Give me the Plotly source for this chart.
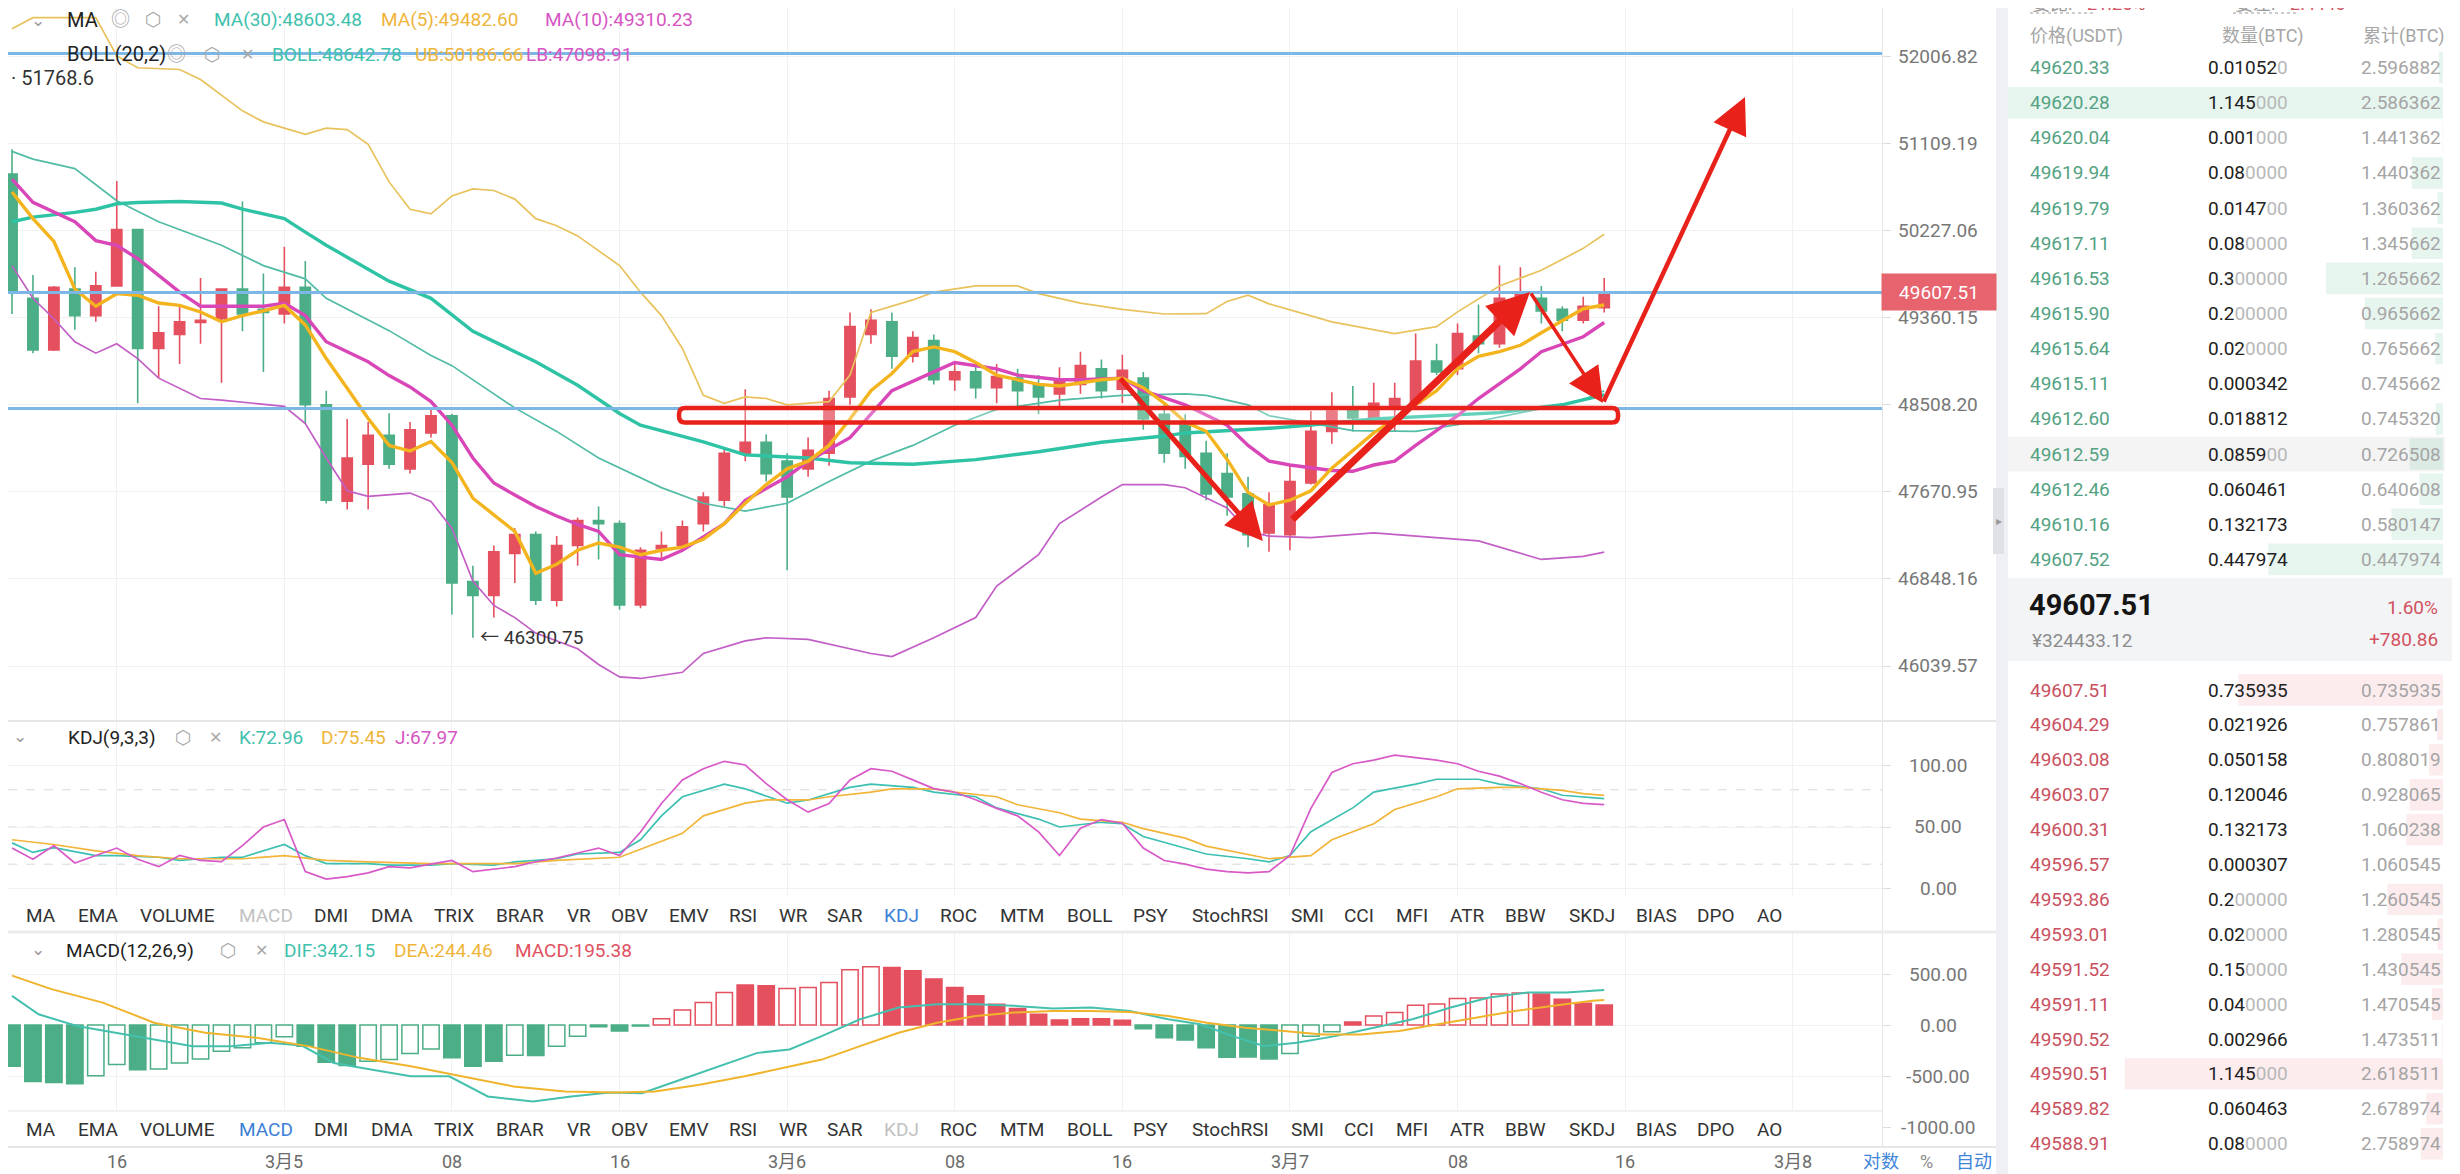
import math
import pandas as pd
import plotly.graph_objects as go

# ======================= DATA =======================
t0 = pd.Timestamp("2021-03-04 11:00:00")
times = pd.date_range(t0, periods=77, freq="h")

opens = [50794, 49548, 49040, 49641, 49378, 49672, 50234, 49055, 49193, 49310,
         49347, 49641, 49440, 49394, 49657, 48506, 47581, 47933, 48211, 47889,
         48234, 48400, 46824, 46692, 47087, 47264, 46648, 47161, 47398, 47368,
         46604, 47132, 47161, 47368, 47590, 48038, 48144, 47963, 47889, 48038,
         48582, 49193, 49317, 48979, 49132, 48749, 48826, 48673, 48765, 48704,
         48612, 48704, 48856, 48658, 48765, 48415, 48309, 48038, 47844, 47650,
         47279, 47264, 47754, 48249, 48454, 48378, 48491, 48521, 48932, 48856,
         49178, 49101, 49548, 49548, 49440, 49332, 49456]
highs = [51046, 49781, 49672, 49858, 49812, 50723, 50234, 49471, 49471, 49750,
         49645, 50517, 49796, 50061, 49920, 48643, 48369, 48339, 48423, 48339,
         48461, 48420, 46971, 47161, 47324, 47294, 47250, 47427, 47531, 47398,
         47146, 47294, 47398, 47665, 48083, 48658, 48219, 48038, 48189, 48643,
         49409, 49440, 49409, 49224, 49193, 48917, 48902, 48902, 48856, 48795,
         48871, 49024, 48948, 48994, 48826, 48521, 48415, 48159, 48038, 47814,
         47665, 47925, 48446, 48628, 48689, 48719, 48719, 49201, 49101, 49301,
         49487, 49874, 49858, 49672, 49471, 49565, 49750]
lows = [49394, 49009, 49030, 49240, 49317, 49672, 48521, 48765, 48902, 49101,
        48719, 49224, 48826, 49301, 48324, 47560, 47502, 47502, 47889, 47844,
        48189, 46516, 46300.75, 46487, 46809, 46604, 46590, 46971, 47030, 46560,
        46575, 47030, 47117, 47294, 47531, 47963, 47769, 46929, 47814, 47918,
        48506, 49101, 48856, 48917, 48704, 48643, 48567, 48521, 48461, 48415,
        48461, 48612, 48567, 48521, 48264, 47948, 47889, 47590, 47442, 47146,
        47102, 47117, 47739, 48129, 48249, 48339, 48249, 48491, 48795, 48795,
        49009, 49063, 49487, 49301, 49224, 49301, 49409]
closes = [49626, 49040, 49657, 49378, 49672, 50234, 49055, 49209, 49317, 49332,
          49641, 49394, 49409, 49657, 48506, 47590, 47993, 48211, 47933, 48264,
          48400, 46809, 46692, 47102, 47264, 46648, 47161, 47398, 47368, 46604,
          47117, 47161, 47339, 47620, 48038, 48144, 47844, 47620, 48068, 48567,
          49270, 49332, 48979, 49163, 48749, 48826, 48673, 48780, 48643, 48582,
          48749, 48887, 48643, 48841, 48369, 48038, 48008, 47650, 47620, 47264,
          47546, 47769, 48249, 48446, 48378, 48521, 48567, 48932, 48826, 49201,
          49101, 49548, 49610, 49424, 49332, 49471, 49607.51]

MA5 = {0: 50613, 1: 50344, 2: 50115, 3: 49641, 4: 49471, 5: 49595, 6: 49580, 7: 49502, 8: 49479, 9: 49414,
       10: 49317, 11: 49378, 12: 49424, 13: 49479, 14: 49286, 15: 48956, 16: 48666, 17: 48374, 18: 48114,
       19: 48060, 20: 48151, 21: 47950, 22: 47609, 24: 47294, 25: 46900, 26: 46985, 27: 47117, 28: 47185,
       29: 47146, 30: 47075, 31: 47117, 32: 47146, 33: 47220, 34: 47368, 35: 47561, 36: 47739, 37: 47889,
       38: 47963, 39: 48114, 40: 48369, 41: 48643, 42: 48810, 43: 49024, 44: 49070, 45: 49024, 46: 48917,
       47: 48795, 48: 48749, 49: 48704, 50: 48689, 51: 48719, 52: 48749, 53: 48765, 54: 48673, 55: 48521,
       56: 48339, 57: 48250, 58: 47980, 59: 47665, 60: 47546, 61: 47590, 62: 47680, 63: 47896, 64: 48068,
       65: 48234, 66: 48369, 67: 48506, 68: 48643, 69: 48856, 70: 48979, 71: 49024, 72: 49086, 73: 49209,
       74: 49332, 75: 49446, 76: 49482.60}
MA10 = {0: 50743, 1: 50509, 3: 50313, 4: 50124, 5: 50077, 6: 49943, 7: 49776, 8: 49610, 9: 49471, 10: 49471,
        11: 49479, 12: 49471, 13: 49499, 14: 49378, 15: 49121, 16: 49024, 17: 48925, 18: 48790, 19: 48680,
        20: 48537, 21: 48309, 22: 47993, 23: 47754, 24: 47640, 25: 47530, 26: 47440, 27: 47360, 28: 47294,
        29: 47075, 31: 47030, 32: 47117, 34: 47368, 35: 47590, 37: 47814, 38: 47963, 40: 48189, 41: 48415,
        42: 48643, 44: 48826, 45: 48917, 47: 48856, 48: 48795, 50: 48749, 51: 48749, 53: 48765, 54: 48643,
        56: 48506, 58: 48309, 59: 48114, 60: 47963, 61: 47926, 63: 47874, 64: 47866, 65: 47926, 66: 47963,
        67: 48114, 69: 48400, 70: 48567, 72: 48856, 73: 49024, 75: 49170, 76: 49310.23}
MA30 = {0: 50313, 1: 50360, 3: 50407, 4: 50439, 5: 50494, 6: 50507, 8: 50517, 10: 50501, 11: 50439, 13: 50344,
        14: 50209, 15: 50077, 16: 49958, 18: 49719, 20: 49549, 22: 49224, 25: 48925, 27: 48696, 29: 48422,
        30: 48309, 33: 48149, 35: 48023, 38: 47993, 40: 47948, 43: 47933, 46: 47978, 49: 48053, 52: 48144,
        55: 48204, 56: 48234, 60: 48279, 62: 48309, 65: 48369, 68: 48400, 71: 48430, 74: 48506, 76: 48603.48}
BOLL_MID = {0: 51025, 1: 50946, 3: 50850, 5: 50525, 7: 50313, 10: 50077, 12: 49874, 14: 49742, 15: 49549,
            17: 49332, 18: 49230, 20: 48986, 21: 48887, 24: 48476, 26: 48249, 28: 47993, 31: 47710, 33: 47561,
            35: 47487, 37: 47561, 39: 47769, 41: 47963, 43: 48114, 45: 48309, 47: 48461, 50: 48552, 53: 48597,
            56: 48612, 57: 48597, 59: 48506, 60: 48400, 64: 48257, 67: 48249, 70: 48347, 75: 48552, 76: 48642.78}
BOLL_UB = {0: 52290, 1: 52407, 4: 52407, 5: 52007, 6: 51885, 8: 51867, 9: 51763, 11: 51440, 12: 51327, 14: 51199,
           15: 51263, 16: 51247, 17: 51097, 18: 50715, 19: 50439, 20: 50392, 21: 50573, 22: 50644, 23: 50628,
           24: 50541, 25: 50344, 26: 50273, 27: 50171, 28: 50022, 29: 49874, 30: 49610, 31: 49378, 32: 49055,
           33: 48597, 34: 48521, 35: 48582, 36: 48567, 37: 48506, 39: 48537, 40: 48795, 41: 49409, 43: 49533,
           44: 49610, 46: 49672, 48: 49672, 49: 49595, 51: 49502, 53: 49440, 55: 49394, 56: 49397, 57: 49397,
           58: 49518, 59: 49580, 60: 49494, 63: 49317, 66: 49201, 68: 49270, 69: 49415, 71: 49672, 73: 49827,
           75: 50046, 76: 50186.66}
BOLL_LB = {0: 49874, 1: 49549, 2: 49347, 3: 49121, 4: 49009, 5: 49101, 6: 48956, 7: 48765, 9: 48567, 10: 48552,
           13: 48491, 14: 48324, 15: 47993, 16: 47680, 17: 47627, 19: 47658, 20: 47578, 21: 47324, 22: 46828,
           23: 46600, 24: 46487, 25: 46343, 27: 46198, 28: 46054, 29: 45939, 30: 45925, 32: 45982, 33: 46155,
           35: 46271, 36: 46300, 38: 46285, 39: 46242, 41: 46155, 42: 46126, 44: 46300, 46: 46487, 47: 46780,
           49: 47075, 50: 47368, 52: 47620, 53: 47739, 55: 47739, 56: 47709, 58: 47516, 59: 47294, 60: 47250,
           62: 47235, 65: 47280, 70: 47205, 73: 47030, 75: 47059, 76: 47098.91}

# KDJ
K_LINE = {0: 37.2, 1: 29.5, 2: 33.3, 4: 26.9, 5: 26.9, 7: 25.6, 8: 23.1, 10: 25.6, 11: 25.6, 13: 35.9, 14: 26.9,
          15: 20.5, 17: 20.5, 18: 19.2, 20: 19.2, 21: 20.5, 23: 19.2, 24: 21.8, 26: 24.4, 27: 28.2, 29: 29.5,
          30: 39.7, 31: 59.0, 32: 74.4, 34: 84.6, 35: 80.8, 37: 69.2, 38: 71.8, 40: 82.0, 41: 84.6, 43: 82.0,
          44: 78.2, 46: 74.4, 47: 65.4, 49: 56.4, 50: 50.0, 52: 53.8, 53: 52.6, 54: 42.3, 56: 33.3, 57: 28.2,
          59: 24.4, 60: 21.8, 61: 26.9, 62: 46.2, 64: 65.4, 65: 78.2, 67: 84.6, 68: 88.5, 70: 88.5, 71: 84.6,
          73: 80.8, 74: 75.6, 76: 72.96}
D_LINE = {0: 39.7, 2: 35.9, 4: 30.8, 6: 26.9, 8: 24.4, 11: 24.4, 13: 26.9, 15: 23.1, 17: 21.8, 20: 20.5, 22: 20.5,
          24: 20.5, 26: 23.1, 29: 25.6, 30: 32.1, 32: 44.9, 33: 59.0, 35: 69.2, 36: 71.8, 38: 71.8, 39: 74.4,
          41: 78.2, 42: 80.8, 44: 80.8, 45: 78.2, 47: 74.4, 48: 67.9, 50: 61.5, 51: 56.4, 53: 53.8, 54: 48.7,
          56: 41.0, 57: 34.6, 59: 28.2, 60: 24.4, 62: 26.9, 63: 39.7, 65: 52.6, 66: 64.1, 68: 74.4, 69: 80.8,
          71: 82.0, 72: 82.0, 74: 79.5, 75: 76.9, 76: 75.45}
J_LINE = [33, 24, 35, 21, 27, 33, 24, 18, 27, 23, 22, 35, 50, 56, 14, 8, 10, 13, 18, 17,
          20, 23, 14, 16, 18, 22, 25, 29, 33, 27, 46, 69, 88, 97, 103, 100, 85, 72, 62, 69,
          88, 97, 95, 88, 81, 78, 72, 65, 59, 46, 27, 49, 56, 53, 33, 23, 20, 16, 14, 13,
          14, 27, 65, 94, 101, 104, 108, 106, 104, 101, 95, 91, 85, 78, 72, 69, 67.97]

# MACD
MACD_HIST = [-405, -553, -563, -576, -497, -388, -438, -431, -372, -332,
             -257, -224, -174, -115, -207, -365, -398, -355, -339, -280,
             -234, -322, -405, -355, -296, -300, -207, -109, -16, -59,
             -10, 62, 148, 220, 319, 392, 385, 359, 368, 418,
             543, 572, 563, 533, 451, 368, 286, 204, 161, 105,
             49, 62, 62, 46, -36, -125, -148, -224, -316, -313,
             -332, -280, -109, -66, 30, 89, 122, 194, 207, 260,
             266, 303, 313, 303, 253, 214, 195.38]
MACD_HOLLOW = [0, 0, 0, 0, 1, 1, 0, 1, 1, 1, 1, 1, 1, 1, 0, 0, 0, 1, 1, 1,
               1, 0, 0, 0, 1, 0, 1, 1, 0, 0, 0, 1, 1, 1, 1, 0, 0, 1, 1, 1,
               1, 1, 0, 0, 0, 0, 0, 0, 0, 0, 0, 0, 0, 0, 0, 0, 0, 0, 0, 0,
               0, 1, 1, 1, 0, 1, 1, 1, 1, 1, 1, 1, 1, 0, 0, 0, 0]
DIF_H = [0, 1.27, 3.10, 4.94, 6.78, 8.62, 10.46, 12.30, 13.83, 15.36, 17.20, 19.04, 20.87, 22.71, 24.86,
         26.70, 28.53, 30.07, 31.91, 33.74, 35.58, 37.11, 38.65, 40.48, 42.32, 44.16, 46.00, 47.84, 49.68,
         51.52, 53.35, 55.19, 56.72, 58.26, 59.79, 61.32, 63.16, 65.00, 66.84, 68.67, 70.51, 72.35, 74.19, 76]
DIF_V = [286, 105, -10, -76, -141, -207, -207, -174, -201, -372, -438, -503, -503, -701, -750,
         -701, -661, -668, -536, -405, -273, -240, -109, 56, 171, 204, 204, 188, 161,
         171, 138, 56, 7, -109, -207, -174, -109, -26, 56, 171, 270, 319, 319, 342.15]
DEA_H = [0, 1.88, 4.33, 6.78, 9.23, 11.68, 14.13, 16.58, 19.04, 21.49, 23.94, 26.39, 28.84, 30.68, 32.82,
         34.97, 36.81, 38.65, 40.48, 42.32, 44.16, 46.00, 47.84, 49.68, 51.52, 53.35, 55.19, 57.03, 58.87,
         60.71, 62.55, 64.38, 66.22, 68.06, 69.90, 71.74, 73.58, 75.42, 76]
DEA_V = [484, 352, 220, 23, -76, -125, -207, -322, -405, -503, -602, -651, -661, -651, -586,
         -503, -421, -339, -207, -76, 23, 89, 122, 138, 138, 128, 89, 23, -26,
         -59, -92, -92, -59, 7, 72, 138, 188, 237, 244.46]

tick_times = ["2021-03-04 16:00", "2021-03-05 00:00", "2021-03-05 08:00", "2021-03-05 16:00",
              "2021-03-06 00:00", "2021-03-06 08:00", "2021-03-06 16:00", "2021-03-07 00:00",
              "2021-03-07 08:00", "2021-03-07 16:00", "2021-03-08 00:00"]
tick_text = ["16", "3月5", "08", "16", "3月6", "08", "16", "3月7", "08", "16", "3月8"]
main_ticks = [52006.82, 51109.19, 50227.06, 49360.15, 48508.20, 47670.95, 46848.16, 46039.57]
kdj_ticks = [100, 50, 0]
kdj_dash = [80, 50, 20]
macd_ticks = [500, 0, -500, -1000]

last_price = 49607.51
high_mark = 51768.6
low_mark = 46300.75
low_mark_idx = 22
h_lines = [52033, 49607.51, 48471]

ask_price = ["49620.33", "49620.28", "49620.04", "49619.94", "49619.79", "49617.11", "49616.53", "49615.90",
             "49615.64", "49615.11", "49612.60", "49612.59", "49612.46", "49610.16", "49607.52"]
ask_qty = [0.010520, 1.145000, 0.001000, 0.080000, 0.014700, 0.080000, 0.300000, 0.200000,
           0.020000, 0.000342, 0.018812, 0.085900, 0.060461, 0.132173, 0.447974]
ask_cum = ["2.596882", "2.586362", "1.441362", "1.440362", "1.360362", "1.345662", "1.265662", "0.965662",
           "0.765662", "0.745662", "0.745320", "0.726508", "0.640608", "0.580147", "0.447974"]
bid_price = ["49607.51", "49604.29", "49603.08", "49603.07", "49600.31", "49596.57", "49593.86", "49593.01",
             "49591.52", "49591.11", "49590.52", "49590.51", "49589.82", "49588.91"]
bid_qty = [0.735935, 0.021926, 0.050158, 0.120046, 0.132173, 0.000307, 0.200000, 0.020000,
           0.150000, 0.040000, 0.002966, 1.145000, 0.060463, 0.080000]
bid_cum = ["0.735935", "0.757861", "0.808019", "0.928065", "1.060238", "1.060545", "1.260545", "1.280545",
           "1.430545", "1.470545", "1.473511", "2.618511", "2.678974", "2.758974"]

tabs = ["MA", "EMA", "VOLUME", "MACD", "DMI", "DMA", "TRIX", "BRAR", "VR", "OBV", "EMV", "RSI", "WR", "SAR",
        "KDJ", "ROC", "MTM", "BOLL", "PSY", "StochRSI", "SMI", "CCI", "MFI", "ATR", "BBW", "SKDJ", "BIAS",
        "DPO", "AO"]

# hand-drawn overlay (hour index, price)
red_box = (31.84, 76.66, 48334, 48476)
red_arrows = [((52.84, 48776), (59.71, 47204), 5.0, 1.5),
              ((61.05, 47393), (72.46, 49611), 7.0, 1.2),
              ((72.46, 49611), (75.94, 48523), 3.5, 2.0),
              ((75.94, 48523), (82.72, 51582), 4.5, 1.6)]

# ======================= STYLE / GEOMETRY =======================
SCREEN_W, SCREEN_H = 2460, 1174
OFF = 8                       # page body margin: figure is drawn 8px in from the top-left
W, H = SCREEN_W - OFF, SCREEN_H - OFF
FONT = "Roboto, 'Noto Sans CJK SC', 'DejaVu Sans', sans-serif"
UP, DN = "#e5505f", "#4cae86"
C_TEAL, C_ORANGE, C_MAG = "#2fc3a6", "#f4b41e", "#d946b8"
C_TEAL_T, C_YEL_T, C_PUR_T = "#52bca6", "#e8c25c", "#c25ec6"
L_TEAL, L_ORANGE, L_MAG = "#3fc1ad", "#efb53a", "#d655c2"
GRID = "#f1f1f1"
BLUE_LINE = "#7db7e6"
DRAW_RED = "#e8221b"

# all layout positions below are in screen pixels of the reference
PLOT_R = 1882
MAIN_T, MAIN_B = OFF, 721
KDJ_T, KDJ_B = 721, 932
MACD_T, MACD_B = 932, 1147
CANDLE0_X, CANDLE_DX = 12.0, 20.95
X_LEFT_H = (OFF - CANDLE0_X) / CANDLE_DX
X_RIGHT_H = (PLOT_R - CANDLE0_X) / CANDLE_DX
# log price scale: 52006.82 sits at y=56, 46039.57 at y=666
PIX_PER_LOG = (666 - 56) / (math.log10(52006.82) - math.log10(46039.57))
LOG_LO = math.log10(52006.82) - (MAIN_B - 56) / PIX_PER_LOG
LOG_HI = math.log10(52006.82) + (56 - MAIN_T) / PIX_PER_LOG


def px(x):
    return (x - OFF) / W


def py(y):
    return 1 - (y - OFF) / H


def T(idx):
    return [t0 + pd.Timedelta(hours=float(i)) for i in idx]


def xp(h):
    return (h - X_LEFT_H) / (X_RIGHT_H - X_LEFT_H) * px(PLOT_R)


def yp_main(v):
    d0, d1 = py(MAIN_B), py(MAIN_T)
    return d0 + (math.log10(v) - LOG_LO) / (LOG_HI - LOG_LO) * (d1 - d0)


x_range = [t0 + pd.Timedelta(hours=X_LEFT_H), t0 + pd.Timedelta(hours=X_RIGHT_H)]

fig = go.Figure()

# ---- candles ----
fig.add_trace(go.Candlestick(
    x=times, open=opens, high=highs, low=lows, close=closes,
    increasing=dict(line=dict(color=UP, width=1.6), fillcolor=UP),
    decreasing=dict(line=dict(color=DN, width=1.6), fillcolor=DN),
    whiskerwidth=0, xaxis="x", yaxis="y", hoverinfo="skip", showlegend=False))


def add_line(d, color, width, xa="x", ya="y"):
    fig.add_trace(go.Scatter(x=T(d.keys()), y=list(d.values()), mode="lines",
                             line=dict(color=color, width=width), xaxis=xa, yaxis=ya,
                             hoverinfo="skip", showlegend=False))


add_line(BOLL_UB, C_YEL_T, 1.7)
add_line(BOLL_LB, C_PUR_T, 1.7)
add_line(BOLL_MID, C_TEAL_T, 1.7)
add_line(MA30, C_TEAL, 3.4)
add_line(MA10, C_MAG, 3.4)
add_line(MA5, C_ORANGE, 3.4)

# ---- KDJ ----
add_line(K_LINE, "#3cc0b2", 1.7, "x2", "y2")
add_line(D_LINE, "#f2b53a", 1.7, "x2", "y2")
add_line(dict(enumerate(J_LINE)), "#d85ac8", 1.7, "x2", "y2")

# ---- MACD ----
bar_fill = []
bar_line = []
for v, hol in zip(MACD_HIST, MACD_HOLLOW):
    c = UP if v >= 0 else DN
    bar_line.append(c)
    bar_fill.append("white" if hol else c)
fig.add_trace(go.Bar(x=times, y=MACD_HIST, width=0.78 * 3600000, xaxis="x3", yaxis="y3",
                     marker=dict(color=bar_fill, line=dict(color=bar_line, width=1.5)),
                     hoverinfo="skip", showlegend=False))
fig.add_trace(go.Scatter(x=T(DIF_H), y=DIF_V, mode="lines", line=dict(color="#45c0ae", width=2),
                         xaxis="x3", yaxis="y3", hoverinfo="skip", showlegend=False))
fig.add_trace(go.Scatter(x=T(DEA_H), y=DEA_V, mode="lines", line=dict(color="#f0b42c", width=2),
                         xaxis="x3", yaxis="y3", hoverinfo="skip", showlegend=False))

# ---- order book depth bars ----
fig.add_trace(go.Bar(x=ask_qty, y=list(range(len(ask_qty))), orientation="h", width=0.9,
                     xaxis="x4", yaxis="y4", marker=dict(color="rgba(70,175,130,0.13)", line=dict(width=0)),
                     hoverinfo="skip", showlegend=False))
fig.add_trace(go.Bar(x=bid_qty, y=list(range(len(bid_qty))), orientation="h", width=0.9,
                     xaxis="x5", yaxis="y5", marker=dict(color="rgba(230,80,100,0.11)", line=dict(width=0)),
                     hoverinfo="skip", showlegend=False))

# ======================= SHAPES =======================
shapes = []


def rect(x0, y0, x1, y1, fill, layer="above"):
    shapes.append(dict(type="rect", xref="paper", yref="paper", x0=px(x0), x1=px(x1), y0=py(y1), y1=py(y0),
                       fillcolor=fill, line=dict(width=0), layer=layer))


def hline(x0, x1, y, color, width, dash="solid", layer="above"):
    shapes.append(dict(type="line", xref="paper", yref="paper", x0=px(x0), x1=px(x1), y0=py(y), y1=py(y),
                       line=dict(color=color, width=width, dash=dash), layer=layer))


# light blue drawn horizontal lines
for v in h_lines:
    shapes.append(dict(type="line", xref="paper", yref="paper", x0=0, x1=px(PLOT_R),
                       y0=yp_main(v), y1=yp_main(v), line=dict(color=BLUE_LINE, width=3), layer="above"))

# KDJ dashed reference lines
for v in kdj_dash:
    shapes.append(dict(type="line", xref="x2 domain", yref="y2", x0=0, x1=1, y0=v, y1=v,
                       line=dict(color="#d9d9d9", width=1, dash="dash"), layer="below"))


def P(x, y):
    return f"{px(x):.6f},{py(y):.6f}"


# red rounded box (hand drawn)
bx0, bx1 = xp(red_box[0]) * W + OFF, xp(red_box[1]) * W + OFF
by0, by1 = (1 - yp_main(red_box[3])) * H + OFF, (1 - yp_main(red_box[2])) * H + OFF
r = 6
path = (f"M{P(bx0 + r, by0)} L{P(bx1 - r, by0)} Q{P(bx1, by0)} {P(bx1, by0 + r)} "
        f"L{P(bx1, by1 - r)} Q{P(bx1, by1)} {P(bx1 - r, by1)} L{P(bx0 + r, by1)} "
        f"Q{P(bx0, by1)} {P(bx0, by1 - r)} L{P(bx0, by0 + r)} Q{P(bx0, by0)} {P(bx0 + r, by0)} Z")
shapes.append(dict(type="path", xref="paper", yref="paper", path=path,
                   line=dict(color=DRAW_RED, width=4.5), fillcolor="rgba(255,255,255,0.25)", layer="above"))

# tab bands (overlay the lower part of the indicator panels)
rect(0, 897, PLOT_R, 931, "white")
rect(0, 1111, PLOT_R, 1146, "white")
# separators
hline(0, 1996, KDJ_T, "#e6e6e6", 2)
hline(0, 1996, KDJ_B, "#ececec", 3)
hline(0, PLOT_R, 1111, "#eeeeee", 1.5)
hline(0, 1996, MACD_B, "#e6e6e6", 2)
# side strip / handle
rect(1996, 0, 2008, SCREEN_H, "#eef0f3")
rect(1993, 488, 2004, 554, "#dfe1e6")
# order book mid band
rect(2008, 578, SCREEN_W, 661, "#f3f4f6", layer="below")
# hovered ask row highlight
shapes.append(dict(type="rect", xref="paper", yref="y4", x0=px(2008), x1=px(2445), y0=10.5, y1=11.5,
                   fillcolor="rgba(0,0,0,0.045)", line=dict(width=0), layer="below"))
# dotted underline on the cut header
hline(2030, 2094, 13, "#bdbdbd", 1.5, "dot")
hline(2233, 2297, 13, "#bdbdbd", 1.5, "dot")

# ======================= ANNOTATIONS =======================
ann = []


def text(x, y, s, size=19, color="#333", anchor="left", yref="paper", xref="paper", yanchor="middle", **kw):
    xx = px(x) if xref == "paper" else x
    yy = py(y) if yref == "paper" else y
    ann.append(dict(x=xx, y=yy, xref=xref, yref=yref, text=s, showarrow=False, xanchor=anchor,
                    yanchor=yanchor, font=dict(size=size, color=color, family=FONT), **kw))


ICON = "#a8a8a8"
# main legend
ROW1, ROW2 = 20, 54
text(38, ROW1, "⌄", 17, "#999", "center")
text(65, ROW1, "MA", 20, "#222")
text(120, ROW1, "◎", 19, ICON, "center")
text(153, ROW1, "⬡", 19, ICON, "center")
text(184, ROW1, "✕", 16, ICON, "center")
text(212, ROW1, f"MA(30):{MA30[76]:.2f}", 19, L_TEAL)
text(379, ROW1, f"MA(5):{MA5[76]:.2f}", 19, L_ORANGE)
text(543, ROW1, f"MA(10):{MA10[76]:.2f}", 19, L_MAG)
text(65, ROW2, "BOLL(20,2)", 20, "#222")
text(176, ROW2, "◎", 19, ICON, "center")
text(212, ROW2, "⬡", 19, ICON, "center")
text(247, ROW2, "✕", 16, ICON, "center")
text(270, ROW2, f"BOLL:{BOLL_MID[76]:.2f}", 19, L_TEAL)
text(413, ROW2, f"UB:{BOLL_UB[76]:.2f}", 19, L_ORANGE)
text(524, ROW2, f"LB:{BOLL_LB[76]:.2f}", 19, L_MAG)

# high / low markers
text(9, 78, f"· {high_mark}", 20, "#333")
ann.append(dict(x=xp(low_mark_idx) + 5 / W, y=yp_main(low_mark), xref="paper", yref="paper",
                text=f"← {low_mark:.2f}", showarrow=False, xanchor="left", yanchor="middle",
                font=dict(size=19, color="#333", family=FONT)))

# KDJ legend
text(20, 736, "⌄", 17, "#999", "center")
text(66, 737, "KDJ(9,3,3)", 19, "#222")
text(183, 737, "⬡", 19, ICON, "center")
text(215, 737, "✕", 16, ICON, "center")
text(237, 737, f"K:{K_LINE[76]:.2f}", 19, L_TEAL)
text(319, 737, f"D:{D_LINE[76]:.2f}", 19, L_ORANGE)
text(393, 737, f"J:{J_LINE[76]:.2f}", 19, L_MAG)

# MACD legend
text(38, 949, "⌄", 17, "#999", "center")
text(64, 950, "MACD(12,26,9)", 19, "#222")
text(228, 950, "⬡", 19, ICON, "center")
text(261, 950, "✕", 16, ICON, "center")
text(282, 950, f"DIF:{DIF_V[-1]:.2f}", 19, L_TEAL)
text(392, 950, f"DEA:{DEA_V[-1]:.2f}", 19, L_ORANGE)
text(513, 950, f"MACD:{MACD_HIST[-1]:.2f}", 19, "#e0505e")

# indicator tab rows
tab_x = [41, 98, 177, 266, 331, 392, 454, 520, 579, 629, 688, 743, 793, 845, 901, 958, 1022, 1089, 1150,
         1230, 1307, 1359, 1412, 1467, 1525, 1592, 1656, 1716, 1769]
for name, x in zip(tabs, tab_x):
    c1 = "#3d80d8" if name == "KDJ" else ("#c2c2c2" if name == "MACD" else "#333333")
    c2 = "#3d80d8" if name == "MACD" else ("#c2c2c2" if name == "KDJ" else "#333333")
    text(x, 915, name, 19, c1, "center")
    text(x, 1129, name, 19, c2, "center")

# y-axis labels
AX_LBL = "#777777"
for v in main_ticks:
    ann.append(dict(x=px(1938), y=yp_main(v), xref="paper", yref="paper", text=f"{v:.2f}", showarrow=False,
                    xanchor="center", yanchor="middle", font=dict(size=19, color=AX_LBL, family=FONT)))
for v in kdj_ticks:
    text(1938, v, f"{v:.2f}", 19, AX_LBL, "center", yref="y2")
for v in macd_ticks:
    text(1938, v, f"{v:.2f}", 19, AX_LBL, "center", yref="y3")
# current price tag
ann.append(dict(x=px(1938.5), y=yp_main(last_price), xref="paper", yref="paper", text=f"{last_price:.2f}",
                showarrow=False, xanchor="center", yanchor="middle", bgcolor="#e7646f", width=110, height=32,
                borderpad=2, font=dict(size=19, color="white", family=FONT)))

# time axis labels
for t, s in zip(tick_times, tick_text):
    ann.append(dict(x=t, y=py(1161), xref="x3", yref="paper", text=s, showarrow=False, xanchor="center",
                    yanchor="middle", font=dict(size=18, color="#6b6b6b", family=FONT)))
text(1881, 1161, "对数", 18, "#3f86d9", "center")
text(1926, 1161, "%", 18, "#8a8a8a", "center")
text(1974, 1161, "自动", 18, "#3f86d9", "center")
text(1999, 521, "▸", 12, "#9a9a9a", "center")

# red hand-drawn arrows
for (th, tp), (hh, hp), w, s in red_arrows:
    hx, hy = xp(hh), yp_main(hp)
    tx, ty = xp(th), yp_main(tp)
    ann.append(dict(x=hx, y=hy, xref="paper", yref="paper", ax=(tx - hx) * W, ay=-(ty - hy) * H,
                    axref="pixel", ayref="pixel", text="", showarrow=True, arrowhead=2, arrowsize=s,
                    arrowwidth=w, arrowcolor=DRAW_RED, standoff=0, startstandoff=0))


# ---- order book text ----
def fmt_qty(q):
    s = f"{q:.6f}"
    core = s.rstrip("0")
    tail = s[len(core):]
    return core + (f"<span style='color:#b8b8b8'>{tail}</span>" if tail else "")


# header line that is cut by the top edge in the reference
text(2030, 3, "委比: <span style='color:#d2525f'>+21.25%</span>", 18, "#999")
text(2233, 3, "委差: <span style='color:#d2525f'>+2.4446</span>", 18, "#999")
text(2028, 36, "价格(USDT)", 18, "#a6a6a6")
text(2306, 36, "数量(BTC)", 18, "#a6a6a6", "right")
text(2447, 36, "累计(BTC)", 18, "#a6a6a6", "right")
for k in range(len(ask_price)):
    text(2028, k, ask_price[k], 19, "#54a283", yref="y4")
    text(2290, k, fmt_qty(ask_qty[k]), 19, "#222", "right", yref="y4")
    text(2443, k, ask_cum[k], 19, "#a5a5a5", "right", yref="y4")
for k in range(len(bid_price)):
    text(2028, k, bid_price[k], 19, "#c9515f", yref="y5")
    text(2290, k, fmt_qty(bid_qty[k]), 19, "#222", "right", yref="y5")
    text(2443, k, bid_cum[k], 19, "#a5a5a5", "right", yref="y5")
text(2027, 605, f"<b>{last_price:.2f}</b>", 29, "#151515")
text(2030, 640, "¥324433.12", 19, "#8c8c8c")
text(2440, 607, "1.60%", 19, "#d2525f", "right")
text(2440, 639, "+780.86", 19, "#d2525f", "right")

# ======================= LAYOUT =======================
common_x = dict(type="date", range=x_range, showticklabels=False, tickvals=tick_times, showgrid=True,
                gridcolor=GRID, gridwidth=1, zeroline=False, showline=False, ticks="", fixedrange=True)
ax_line = "#e6e6e6"
fig.update_layout(
    width=W, height=H, margin=dict(l=0, r=0, t=0, b=0, pad=0),
    paper_bgcolor="white", plot_bgcolor="white", showlegend=False, barmode="overlay",
    hovermode=False, font=dict(family=FONT),
    xaxis=dict(domain=[0, px(PLOT_R)], anchor="y", rangeslider=dict(visible=False), **common_x),
    yaxis=dict(domain=[py(MAIN_B), py(MAIN_T)], type="log", range=[LOG_LO, LOG_HI], side="right", anchor="x",
               tickvals=main_ticks, showticklabels=False, ticks="outside", ticklen=8, tickcolor="#dddddd",
               showgrid=True, gridcolor=GRID, zeroline=False, showline=True, linecolor=ax_line),
    xaxis2=dict(domain=[0, px(PLOT_R)], anchor="y2", **common_x),
    yaxis2=dict(domain=[py(KDJ_B), py(KDJ_T)], range=[-34.7, 135.5], side="right", anchor="x2",
                tickvals=kdj_ticks, showticklabels=False, ticks="outside", ticklen=8, tickcolor="#dddddd",
                showgrid=True, gridcolor=GRID, zeroline=False, showline=True, linecolor=ax_line),
    xaxis3=dict(domain=[0, px(PLOT_R)], anchor="y3", **common_x),
    yaxis3=dict(domain=[py(MACD_B), py(MACD_T)], range=[-1196, 912], side="right", anchor="x3",
                tickvals=macd_ticks, showticklabels=False, ticks="outside", ticklen=8, tickcolor="#dddddd",
                showgrid=True, gridcolor=GRID, zeroline=False, showline=True, linecolor=ax_line),
    xaxis4=dict(domain=[px(2008), px(2443)], range=[1.115, 0], anchor="y4", visible=False, fixedrange=True),
    yaxis4=dict(domain=[py(577), py(50)], range=[14.5, -0.5], anchor="x4", visible=False, fixedrange=True),
    xaxis5=dict(domain=[px(2008), px(2443)], range=[1.565, 0], anchor="y5", visible=False, fixedrange=True),
    yaxis5=dict(domain=[py(1161.15), py(672.55)], range=[13.5, -0.5], anchor="x5", visible=False,
                fixedrange=True),
    shapes=shapes, annotations=ann,
)

fig.write_html("out.html")
